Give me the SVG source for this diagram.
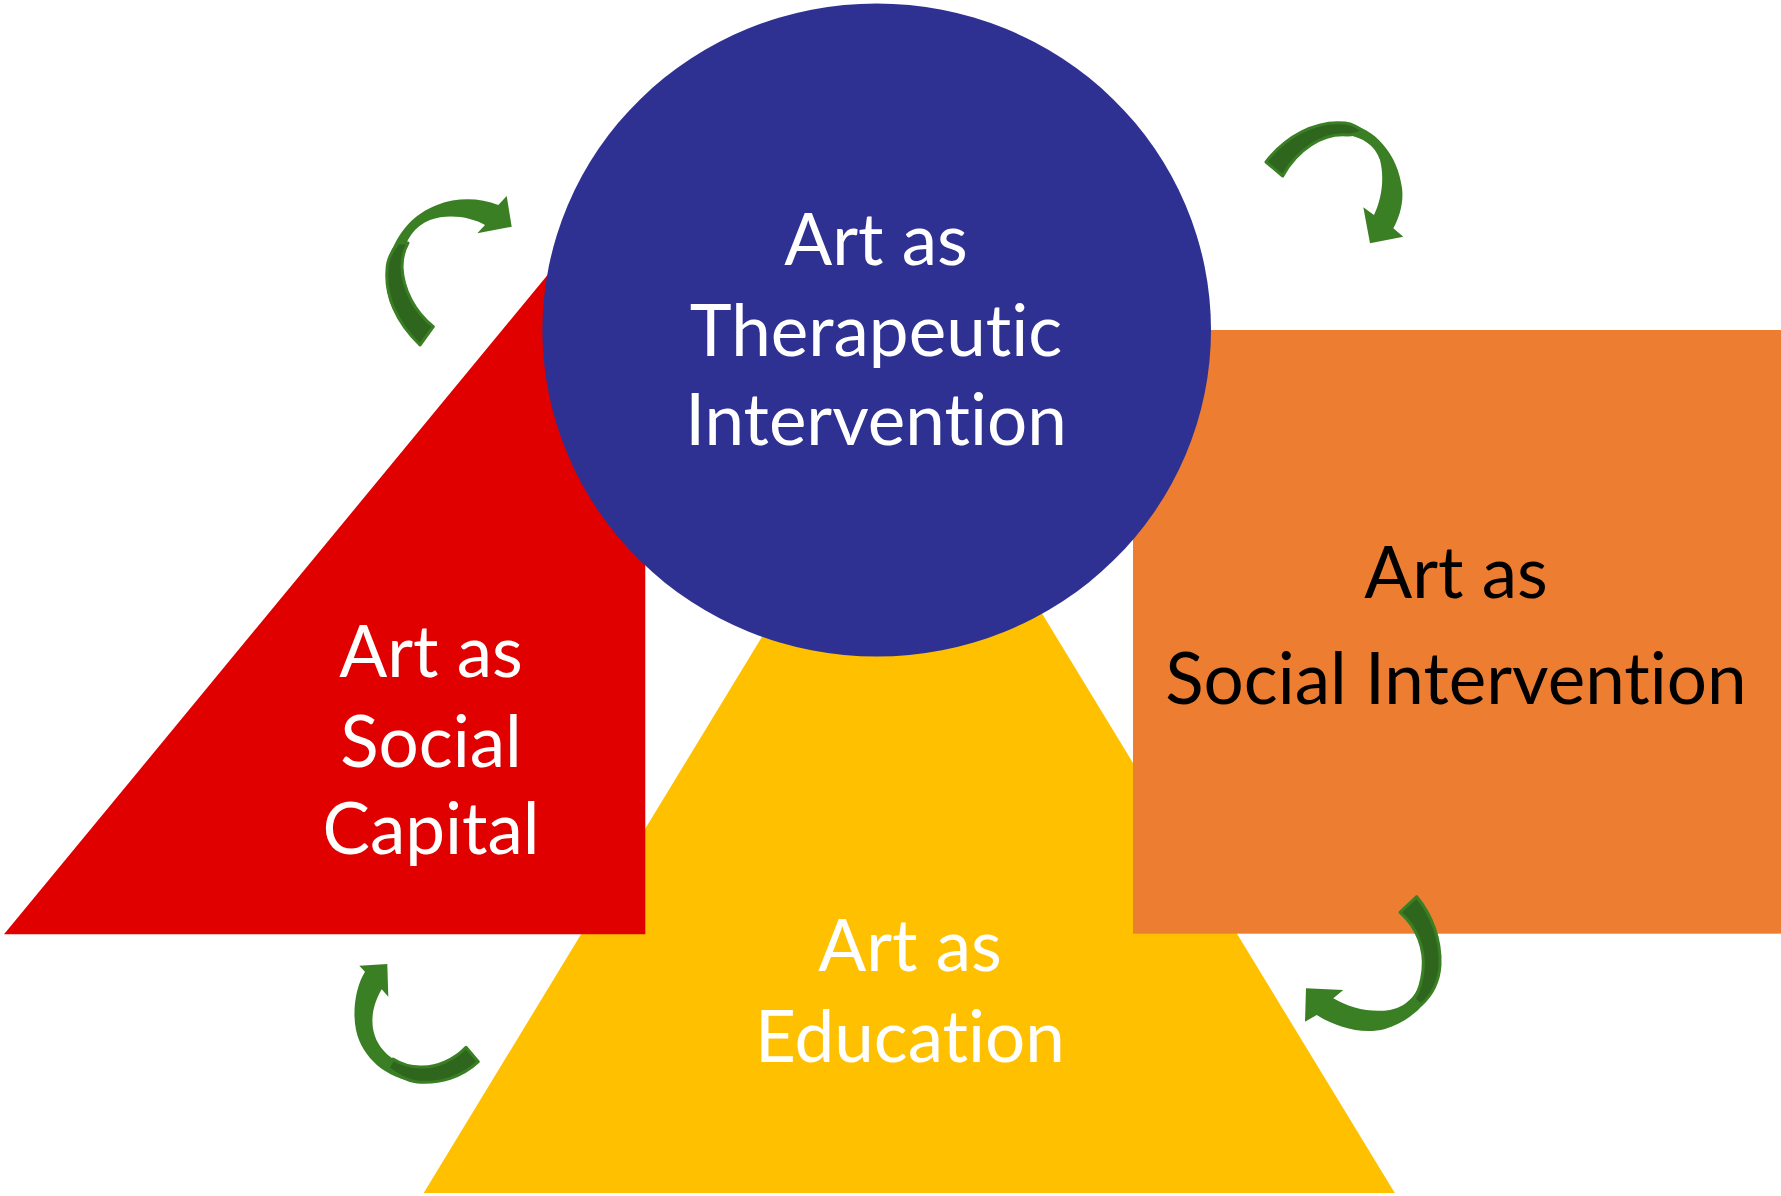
<svg xmlns="http://www.w3.org/2000/svg" width="1781" height="1196" viewBox="0 0 1781 1196">
  <style>
    .lbl { font-family: "Lato", "Liberation Sans", sans-serif; font-size: 71px; text-anchor: middle; font-variant-ligatures: none; font-feature-settings: "liga" 0, "clig" 0; }
    .light { fill: #ffffff; }
    .dark { fill: #000000; }
    .arrow { fill: #3b7f24; }
    .arrow-back { fill: #2f661e; stroke: #3b7f24; stroke-width: 3; stroke-linejoin: round; }
  </style>

  <rect width="1781" height="1196" fill="#ffffff"/>

  <!-- Art as Education -->
  <g id="node-education">
    <polygon points="909,395 1394.8,1193 423.7,1193" fill="#ffc000"/>
    <text class="lbl light" x="910" y="971">Art as</text>
    <text class="lbl light" x="910" y="1062">Education</text>
  </g>

  <!-- Art as Social Capital -->
  <g id="node-social-capital">
    <polygon points="4,934.3 645.3,934.3 645.3,156.4" fill="#e00000"/>
    <text class="lbl light" x="431" y="677">Art as</text>
    <text class="lbl light" x="431" y="767">Social</text>
    <text class="lbl light" x="431" y="854">Capital</text>
  </g>

  <!-- Art as Social Intervention -->
  <g id="node-social-intervention">
    <rect x="1133" y="330" width="648" height="603.7" fill="#ed7d31"/>
    <text class="lbl dark" x="1456" y="597.5">Art as</text>
    <text class="lbl dark" x="1456" y="704">Social Intervention</text>
  </g>

  <!-- Art as Therapeutic Intervention -->
  <g id="node-therapeutic">
    <ellipse cx="876.7" cy="330" rx="334.3" ry="326.5" fill="#2e3192"/>
    <text class="lbl light" x="876" y="265">Art as</text>
    <text class="lbl light" x="876" y="355.5">Therapeutic</text>
    <text class="lbl light" x="876" y="445">Intervention</text>
  </g>

  <!-- curved cycle arrows -->
  <g id="connectors">
    <!-- top left -->
    <g>
      <path class="arrow" d="M420,345 C395,322 383,295 387,270 C391,240 410,215 437,205 C458,197 480,198 498.3,205 L506.7,196 L511.7,226.7 L477.3,233.3 L485,225 C472,217 448,213 430,220 C412,227 401,246 402,267 C403,290 415,312 433.3,326.7 Z"/>
      <path class="arrow-back" d="M398,243 C391,252 387,262 387,270 C385,295 396,322 420,345 L433.3,326.7 C415,312 403,290 402,267 C402,258 404,250 408,243 Z"/>
    </g>
    <!-- top right -->
    <g>
      <path class="arrow" d="M1265,161.7 C1285,137 1315,120 1345,123 C1375,127 1398,155 1402,188 C1404,203 1399,218 1393.3,228.3 L1403.3,236.7 L1370,243.3 L1363.3,207.3 L1374,215 C1381,200 1385,180 1380,160 C1375,145 1362,137 1347,135 C1322,133 1297,150 1282.7,176 Z"/>
      <path class="arrow-back" d="M1266,162 C1285,137 1315,120 1345,123 C1352,124 1358,127 1362,131 C1357,134 1352,135 1347,135 C1322,133 1297,150 1282.7,176 Z"/>
    </g>
    <!-- bottom right -->
    <g>
      <path class="arrow" d="M1416.7,896.7 C1432,915 1441,940 1440,965 C1438,995 1415,1020 1385,1029 C1362,1035 1336,1027 1316.7,1015 L1305,1021.7 L1306,988.3 L1343.3,990 L1333.3,998.3 C1350,1008 1370,1013 1390,1010 C1410,1006 1421,990 1423,970 C1425,950 1418,928 1400,912.3 Z"/>
      <path class="arrow-back" d="M1416.7,896.7 C1432,915 1441,940 1440,965 C1439,982 1432,995 1421,1005 C1418,1003 1416,1001 1414,999 C1420,990 1422,980 1423,970 C1425,950 1418,928 1400,912.3 Z"/>
    </g>
    <!-- bottom left -->
    <g>
      <path class="arrow" d="M359.3,965.7 L387.3,964 L388.3,996.7 L381.7,989.3 C374,1002 370,1018 374,1033 C379,1052 397,1066 420,1067 C437,1068 455,1059 466,1047.3 L478.3,1061.7 C462,1077 440,1084 417,1082 C387,1079 362,1058 356,1030 C352,1010 356,986 365,971.7 Z"/>
      <path class="arrow-back" d="M388,1068 C397,1075 407,1081 417,1082 C440,1084 462,1077 478.3,1061.7 L466,1047.3 C455,1059 437,1068 420,1067 C410,1067 401,1064 393,1059 Z"/>
    </g>
  </g>
</svg>
